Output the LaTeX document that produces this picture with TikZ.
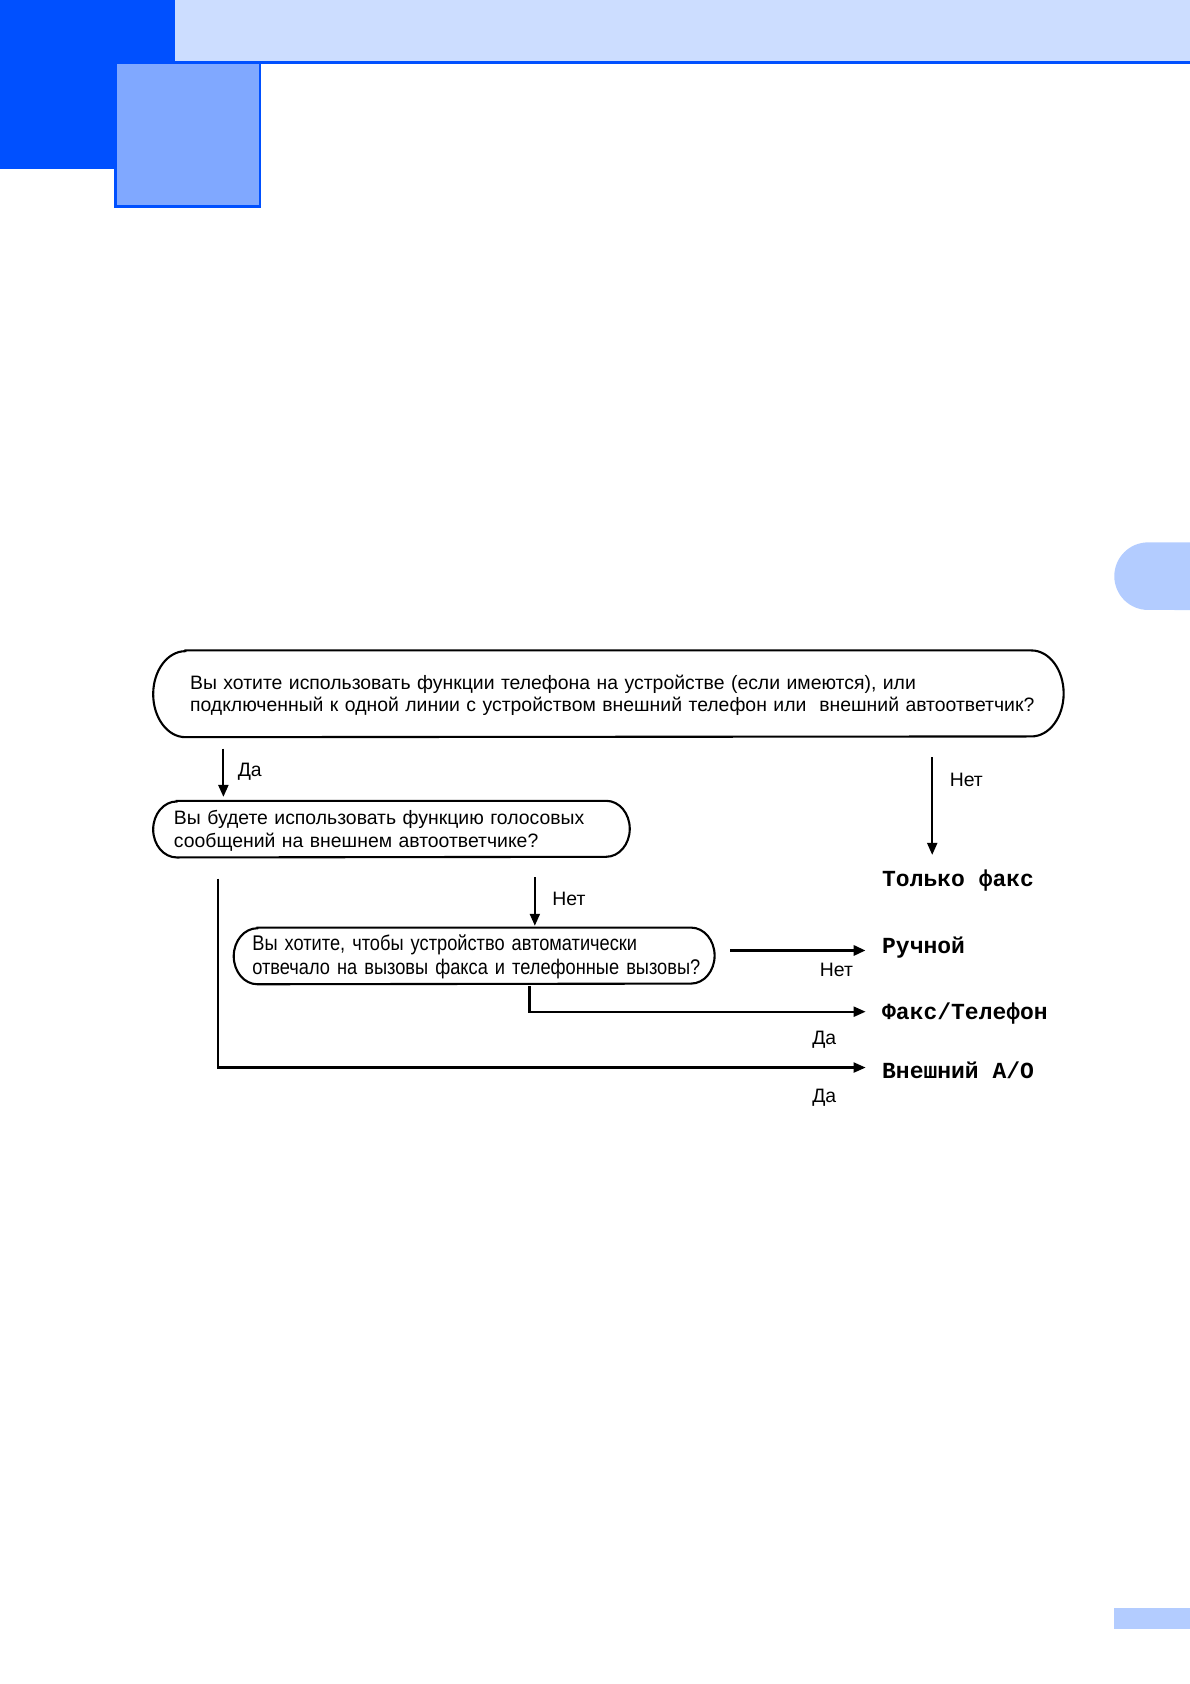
\documentclass[tikz,border=0pt]{standalone}
\usepackage{fontspec}
\setmainfont{Liberation Sans}
\newfontfamily\narrowfont{Liberation Sans}[FakeStretch=0.86]
\newfontfamily\resfont{Liberation Mono}
\usetikzlibrary{arrows.meta,calc}
\definecolor{dblue}{RGB}{0,80,255}
\definecolor{band}{RGB}{204,221,255}
\definecolor{mblue}{RGB}{128,168,255}
\definecolor{tabc}{RGB}{179,204,255}
\def\pxu{0.537pt}
\tikzset{
  question/.style={align=left, inner ysep=0pt, font=\fontsize{9.7}{11.1}\selectfont},
  qline/.style={draw, line width=1.05pt},
  result/.style={anchor=west, inner sep=0pt, font=\resfont\bfseries\fontsize{11.5}{13}\selectfont},
  lbl/.style={anchor=west, inner sep=0pt, font=\fontsize{9.7}{11.3}\selectfont},
  arr/.style={line width=1.05pt, -{Triangle[length=6pt,width=5pt]}},
}
% outline of a question node: node name, x radius, half height, vertical offset
\newcommand\stadium[4]{%
  \draw[qline] ([xshift=#2,yshift=#4]#1.north west) -- ([xshift=-#2,yshift=#4]#1.north east)
    arc[start angle=90,end angle=-90,x radius=#2,y radius=#3]
    -- ([xshift=#2,yshift=#4]#1.south west)
    arc[start angle=270,end angle=90,x radius=#2,y radius=#3] -- cycle;}
\begin{document}
\begin{tikzpicture}[x=0.537pt,y=-0.537pt]
\useasboundingbox (0,0) rectangle (1108,1568);
% header decoration
\fill[band] (163,0) rectangle (1108,57);
\fill[dblue] (163,57) rectangle (1108,60);
\fill[dblue] (0,0) rectangle (163,157);
\fill[dblue] (106,57) rectangle (243,194);
\fill[mblue] (109,60) rectangle (241,191);
% side tab and footer
\fill[tabc] (1108,505) -- (1069,505) arc[start angle=90,end angle=270,radius=16.9pt] -- (1108,568) -- cycle;
\fill[tabc] (1037,1497) rectangle (1108,1517);

% questions
\node[question, text width={779*\pxu}, inner xsep={34*\pxu}, minimum height={80*\pxu}] (q1) at (566.5,647.5)
  {\mbox{Вы хотите использовать функции телефона на устройстве (если имеются), или}\\
   \mbox{подключенный к одной линии с устройством внешний телефон или \ внешний автоответчик?}};
\node[question, text width={405*\pxu}, inner xsep={19*\pxu}, minimum height={52*\pxu}] (q2) at (364.5,773.5)
  {\mbox{Вы будете использовать функцию голосовых}\\ \mbox{сообщений на внешнем автоответчике?}};
\node[question, font=\narrowfont\fontsize{10.6}{11.8}\selectfont, text width={413*\pxu}, inner xsep={17*\pxu}, minimum height={52*\pxu}] (q3) at (441.5,891)
  {\mbox{Вы хотите, чтобы устройство автоматически}\\ \mbox{отвечало на вызовы факса и телефонные вызовы?}};
\stadium{q1}{16.1pt}{21.5pt}{0.8pt}
\stadium{q2}{11.8pt}{14pt}{0.8pt}
\stadium{q3}{11.8pt}{14pt}{0.5pt}

% results
\node[result] (r1) at (821,819.5) {Только факс};
\node[result] (r2) at (821,882.5) {Ручной};
\node[result] (r3) at (821,943.5) {Факс/Телефон};
\node[result] (r4) at (821,996.5) {Внешний А/О};

% connector points (free ends)
\coordinate (a1s) at (208,697);
\coordinate (a1e) at (208,742);
\coordinate (a2s) at (868,705);
\coordinate (a2e) at (868,796);
\coordinate (a3s) at (498,817);
\coordinate (a3e) at (498,862);
\coordinate (a4s) at (680,885);
\coordinate (a4e) at (806,885);
\coordinate (a5s) at (493,918);
\coordinate (a5c) at (493,942);
\coordinate (a5e) at (806,942);
\coordinate (a6s) at (203,818);
\coordinate (a6c) at (203,994);
\coordinate (a6e) at (806,994);

\draw[arr] (a1s) -- (a1e);
\draw[arr] (a2s) -- (a2e);
\draw[arr] (a3s) -- (a3e);
\draw[arr, line width=1.7pt] (a4s) -- (a4e);
\draw[arr] (a5s) -- (a5c) -- (a5e);
\draw[arr] (a6s) -- (a6c) -- (a6e);

% labels
\node[lbl] (l1) at (221,719) {Да};
\node[lbl] (l2) at (884,726) {Нет};
\node[lbl] (l3) at (514,837) {Нет};
\node[lbl] (l4) at (763,903) {Нет};
\node[lbl] (l5) at (756,968) {Да};
\node[lbl] (l6) at (756,1022) {Да};
\end{tikzpicture}
\end{document}
